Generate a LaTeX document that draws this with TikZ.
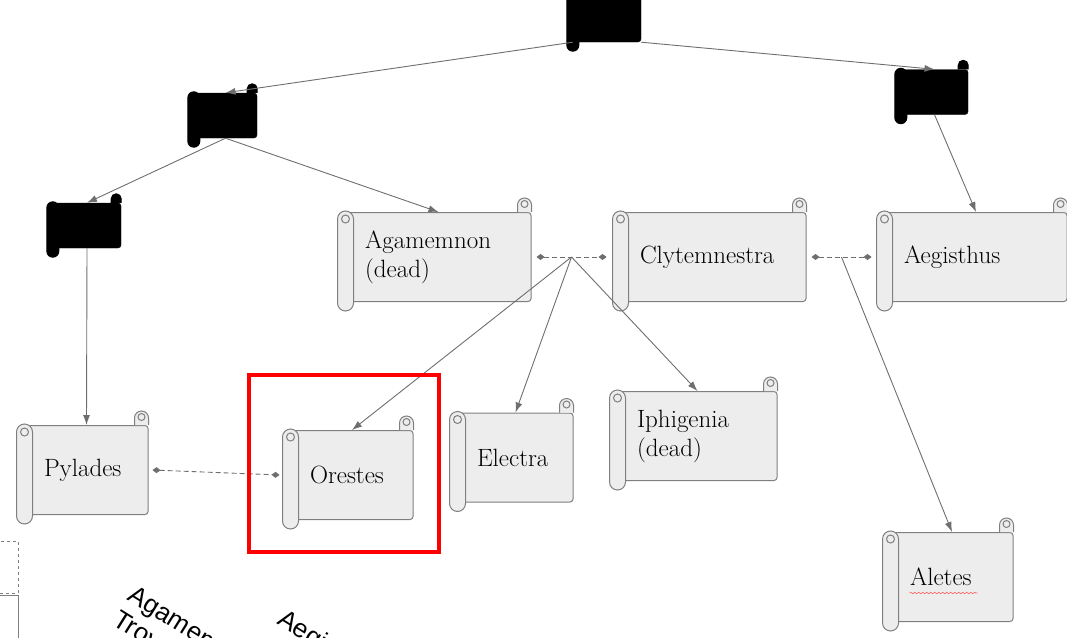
\documentclass[tikz,border=0pt]{standalone}
\usepackage{fontspec}
\newfontfamily\notefont{Liberation Sans}
\usepackage{tikz}
\usetikzlibrary{positioning, calc, arrows.meta, decorations.pathmorphing}
\definecolor{scrollfill}{HTML}{EDEDED}
\definecolor{scrollline}{HTML}{7F7F7F}
\definecolor{linkgray}{HTML}{6E6E6E}
\definecolor{markred}{HTML}{FF0000}

\begin{document}
\begin{tikzpicture}[
    x = 1pt, y = -1pt,
    scroll/.style = {
      rectangle, rounded corners = 3pt, draw = scrollline, fill = scrollfill,
      line width = 1pt, inner xsep = 19pt, inner ysep = 0pt,
      minimum height = 89pt, text width = #1, align = left,
      font = \fontsize{25}{29}\selectfont,
      execute at begin node = {\hyphenpenalty=10000\relax}
    },
    blackscroll/.style = {
      rectangle, rounded corners = 3pt, draw = black, fill = black,
      inner sep = 0pt, minimum width = #1, minimum height = 45pt
    },
    rollpart/.style = {
      draw = scrollline, fill = scrollfill, line width = 1pt
    },
    blackpart/.style = {
      draw = black, fill = black, line width = 1pt
    },
    link/.style = {
      draw = linkgray, line width = 0.9pt,
      -{Latex[length = 10pt, width = 7pt]}
    },
    marry/.style = {
      draw = linkgray, line width = 0.9pt, dash pattern = on 5pt off 3pt,
      {Diamond[length = 8pt, width = 6pt]}-{Diamond[length = 8pt, width = 6pt]}
    },
    highlight/.style = {
      rectangle, draw = markred, line width = 4pt, inner sep = 0pt,
      minimum width = 190pt, minimum height = 177pt
    },
    offbox/.style = {
      rectangle, draw = scrollline, line width = 0.9pt, inner sep = 0pt
    },
    turned/.style = {
      anchor = north west, rotate = -32, align = left, inner sep = 0pt,
      font = \notefont\fontsize{26}{29}\selectfont
    },
    spellmark/.style = {
      draw = markred!60, line width = 0.6pt, decorate,
      decoration = {snake, amplitude = 0.8pt, segment length = 4pt}
    }
  ]

  \useasboundingbox (0, 0) rectangle (1067, 637);
  \clip (0, 0) rectangle (1067, 637);

  % black scrolls (ancestors)
  \node  [blackscroll = 68pt, minimum height = 60pt]  (trunk)  at (607, 12)  {};
  \node  [blackscroll = 63pt]  (midblack)  at (225.5, 115.5)  {};
  \node  [blackscroll = 68pt]  (leftblack)  at (87, 225.5)  {};
  \node  [blackscroll = 67pt]  (rightblack)  at (934.5, 92)  {};

  % named scrolls
  \node  [scroll = 147pt]  (agamemnon)  at (438.5, 257)  {Agamemnon\\(dead)};
  \node  [scroll = 147pt]  (clytemnestra)  [right = 89pt of agamemnon]  {Clytemnestra};
  \node  [scroll = 144pt]  (aegisthus)  [right = 78pt of clytemnestra]  {Aegisthus};

  \node  [scroll = 85pt]  (pylades)  at (86.5, 470)  {Pylades};
  \node  [scroll = 84pt]  (orestes)  at (352, 475)  {Orestes};
  \node  [scroll = 77pt]  (electra)  at (515.5, 457.5)  {Electra};
  \node  [scroll = 121pt]  (iphigenia)  at (697.5, 436)  {Iphigenia\\(dead)};
  \node  [scroll = 84pt]  (aletes)  at (952, 577)  {Aletes};

  % rolled ends of the scrolls
  \foreach \n in {agamemnon, clytemnestra, aegisthus, pylades, orestes, electra, iphigenia, aletes} {
    \draw  [rollpart, rounded corners = 7pt]  ($(\n.north east)+(-14, 0)$)  --  ($(\n.north east)+(-14, -14)$)
      --  ($(\n.north east)+(0, -14)$)  --  (\n.north east);
    \draw  [rollpart]  ($(\n.north east)+(-7, -8)$)  circle (3.5pt);
    \draw  [rollpart, rounded corners = 8pt]  ($(\n.north west)+(-8, -1)$)  rectangle  ($(\n.south west)+(8, 9)$);
    \draw  [rollpart]  ($(\n.north west)+(0, 7)$)  circle (4pt);
  }
  \foreach \n in {trunk, midblack, leftblack, rightblack} {
    \draw  [blackpart, rounded corners = 5pt]  ($(\n.north east)+(-10, 0)$)  --  ($(\n.north east)+(-10, -9)$)
      --  ($(\n.north east)+(0, -9)$)  --  (\n.north east);
    \draw  [blackpart, rounded corners = 6pt]  ($(\n.north west)+(-6, -1)$)  rectangle  ($(\n.south west)+(6, 9)$);
  }

  % descent
  \draw  [link]  (trunk.south west)  --  (midblack.north);
  \draw  [link]  (trunk.south east)  --  (rightblack.north);
  \draw  [link]  (midblack.south)  --  (leftblack.north);
  \draw  [link]  (midblack.south)  --  (agamemnon.north);
  \draw  [link]  (leftblack.south)  --  (pylades.north);
  \draw  [link]  (rightblack.south)  --  (aegisthus.north);

  % marriages
  \draw  [marry]  ([xshift = 5pt]agamemnon.east)  --  coordinate [midway] (wed1)  ([xshift = -14pt]clytemnestra.west);
  \draw  [marry]  ([xshift = 5pt]clytemnestra.east)  --  coordinate [midway] (wed2)  ([xshift = -13pt]aegisthus.west);
  \draw  [marry]  ([xshift = 4pt]pylades.east)  --  ([xshift = -11pt]orestes.west);

  % children
  \foreach \c in {orestes, electra, iphigenia}
  \draw  [link]  (wed1)  --  (\c.north);
  \draw  [link]  (wed2)  --  (aletes.north);

  \draw  [spellmark]  ([xshift = 19pt, yshift = -16pt]aletes.west)  --  ([xshift = 87pt, yshift = -16pt]aletes.west);

  % cut-off pieces at the lower left
  \node  [offbox, dashed, minimum width = 30pt, minimum height = 52pt]  (offcut)  at (3, 567)  {};
  \node  [offbox, minimum width = 30pt, minimum height = 60pt]  (offframe)  at (3, 625)  {};
  \node  [turned]  (noteA)  at (136, 584)  {Agamemnon\\Troy};
  \node  [turned]  (noteB)  at (286, 607)  {Aegisthus};

  \node  [highlight]  (focus)  at (344, 463.5)  {};

\end{tikzpicture}
\end{document}
